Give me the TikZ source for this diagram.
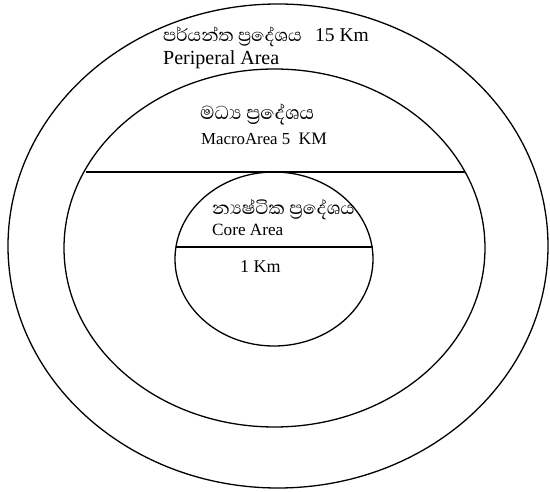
\documentclass[tikz,border=0pt]{standalone}
\usepackage{fontspec}
\setmainfont{Liberation Serif}
\newfontfamily\sinhala[Script=Sinhala]{Abhaya Libre}
\tikzset{
  ring/.style={line width=1.3pt},
  divider/.style={line width=1.3pt},
  lat/.style={anchor=base west, inner sep=0pt},
  sin/.style={anchor=west, inner sep=0pt, font=\sinhala\fontsize{24}{26}\selectfont},
}
\begin{document}
\begin{tikzpicture}[x=1pt,y=-1pt]
\useasboundingbox (0,0) rectangle (550,492);
% ellipses
\draw[ring] (278,246) ellipse [x radius=270, y radius=242];
\draw[ring] (274.5,248) ellipse [x radius=210.5, y radius=179];
\draw[ring] (274,259) ellipse [x radius=99, y radius=87];
% dividers
\coordinate (m1) at (86,172);
\coordinate (m2) at (465,172);
\coordinate (c1) at (175.5,247);
\coordinate (c2) at (372.5,247);
\draw[divider] (m1) -- (m2);
\draw[divider] (c1) -- (c2);
% texts
\node[sin, font=\sinhala\fontsize{22.5}{25}\selectfont] (p1) at (163,37) {පර්යන්ත ප්^^^^200dරදේශය};
\node[lat, font=\fontsize{19.5}{21}\selectfont] (p2) at (315,42) {15 Km};
\node[lat, font=\fontsize{20}{22}\selectfont] (p3) at (163,65) {Periperal Area};
\node[sin] (m3) at (200,114) {මධ්^^^^200dය ප්^^^^200dරදේශය};
\node[lat, font=\fontsize{16.8}{18}\selectfont] (m4) at (201,145) {MacroArea 5\ \ {\fontsize{17.5}{18}\selectfont KM}};
\node[sin, font=\sinhala\fontsize{23}{25}\selectfont] (c3) at (212,210) {න්^^^^200dයෂ්ටික ප්^^^^200dරදේශය};
\node[lat, font=\fontsize{17.2}{18}\selectfont] (c4) at (212,236) {Core Area};
\node[lat, font=\fontsize{18}{20}\selectfont] (c5) at (240,273) {1 Km};
\end{tikzpicture}
\end{document}
